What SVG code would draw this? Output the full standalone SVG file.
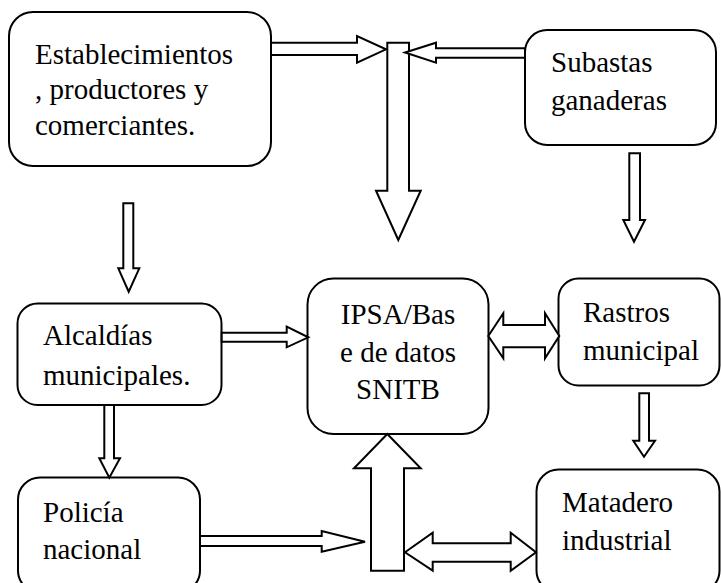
<svg xmlns="http://www.w3.org/2000/svg" width="721" height="583" viewBox="0 0 721 583">
<style>
.box{fill:#fff;stroke:#000;stroke-width:2}
.arr{fill:#fff;stroke:#000;stroke-width:2;stroke-linejoin:miter}
.t{font-family:'Times New Roman',Tinos,'Liberation Serif','DejaVu Serif',serif;font-size:29px;fill:#000}
.c{text-anchor:middle}
</style>
<rect width="721" height="583" fill="#fff"/>
<g id="n-establecimientos">
<rect class="box" x="9" y="12" width="262" height="154" rx="24"/>
<text class="t" x="35" y="64">Establecimientos</text>
<text class="t" x="35" y="99">, productores y</text>
<text class="t" x="35" y="135">comerciantes.</text>
</g>
<g id="n-subastas">
<rect class="box" x="525" y="30" width="191" height="115" rx="22"/>
<text class="t" x="551" y="72">Subastas</text>
<text class="t" x="551" y="110">ganaderas</text>
</g>
<g id="n-alcaldias">
<rect class="box" x="17.5" y="303.5" width="204" height="101.5" rx="20"/>
<text class="t" x="43" y="345">Alcaldías</text>
<text class="t" x="43" y="385">municipales.</text>
</g>
<g id="n-ipsa">
<rect class="box" x="307.5" y="278.5" width="181" height="155.5" rx="26"/>
<text class="t c" x="398" y="324">IPSA/Bas</text>
<text class="t c" x="398" y="362">e de datos</text>
<text class="t c" x="398" y="399">SNITB</text>
</g>
<g id="n-rastros">
<rect class="box" x="558.5" y="278.5" width="161" height="107" rx="20"/>
<text class="t" x="583" y="322">Rastros</text>
<text class="t" x="583" y="360">municipal</text>
</g>
<g id="n-policia">
<rect class="box" x="18" y="477.5" width="182" height="115" rx="22"/>
<text class="t" x="43" y="522">Policía</text>
<text class="t" x="43" y="559">nacional</text>
</g>
<g id="n-matadero">
<rect class="box" x="536.5" y="469.5" width="183" height="123" rx="22"/>
<text class="t" x="562" y="512">Matadero</text>
<text class="t" x="562" y="550">industrial</text>
</g>
<g id="connectors">
<polygon class="arr" points="387.3,42.7 409,42.7 409,190.7 420.7,190.7 398.3,240 376,190.7 387.3,190.7"/>
<polygon class="arr" points="271,42.7 357,42.7 357,36 386,49.3 357,62.7 357,55 271,55"/>
<polygon class="arr" points="525,48.3 436,48.3 436,42.7 405,52.5 436,62.7 436,57.7 525,57.7"/>
<polygon class="arr" points="629.3,153.3 640,153.3 640,220 645,220 634,241.7 623.3,220 629.3,220"/>
<polygon class="arr" points="123.3,203.3 133.3,203.3 133.3,268.3 139.3,268.3 128.7,291.7 118.3,268.3 123.3,268.3"/>
<polygon class="arr" points="221.7,332.7 286.7,332.7 286.7,326.7 308.3,337.3 286.7,347.3 286.7,341.7 221.7,341.7"/>
<polygon class="arr" points="488.3,336 503.3,313.3 503.3,325 545,325 545,313.3 559.3,336 545,358.3 545,347.3 503.3,347.3 503.3,358.3"/>
<polygon class="arr" points="639.3,393.3 649,393.3 649,440.7 655,440.7 644,456.7 633.3,440.7 639.3,440.7"/>
<polygon class="arr" points="104.3,405 114,405 114,458.3 120,458.3 109.3,477.7 99.3,458.3 104.3,458.3"/>
<polygon class="arr" points="200,536 321.7,536 321.7,531 365,541.7 321.7,551.7 321.7,546 200,546"/>
<polygon class="arr" points="387.3,434 420.7,468.3 404,468.3 404,570.7 371,570.7 371,468.3 354,468.3"/>
<polygon class="arr" points="405,552.3 432.7,532.7 432.7,543.3 510.7,543.3 510.7,532.7 536,552.3 510.7,570.7 510.7,561.7 432.7,561.7 432.7,570.7"/>
</g>
</svg>
